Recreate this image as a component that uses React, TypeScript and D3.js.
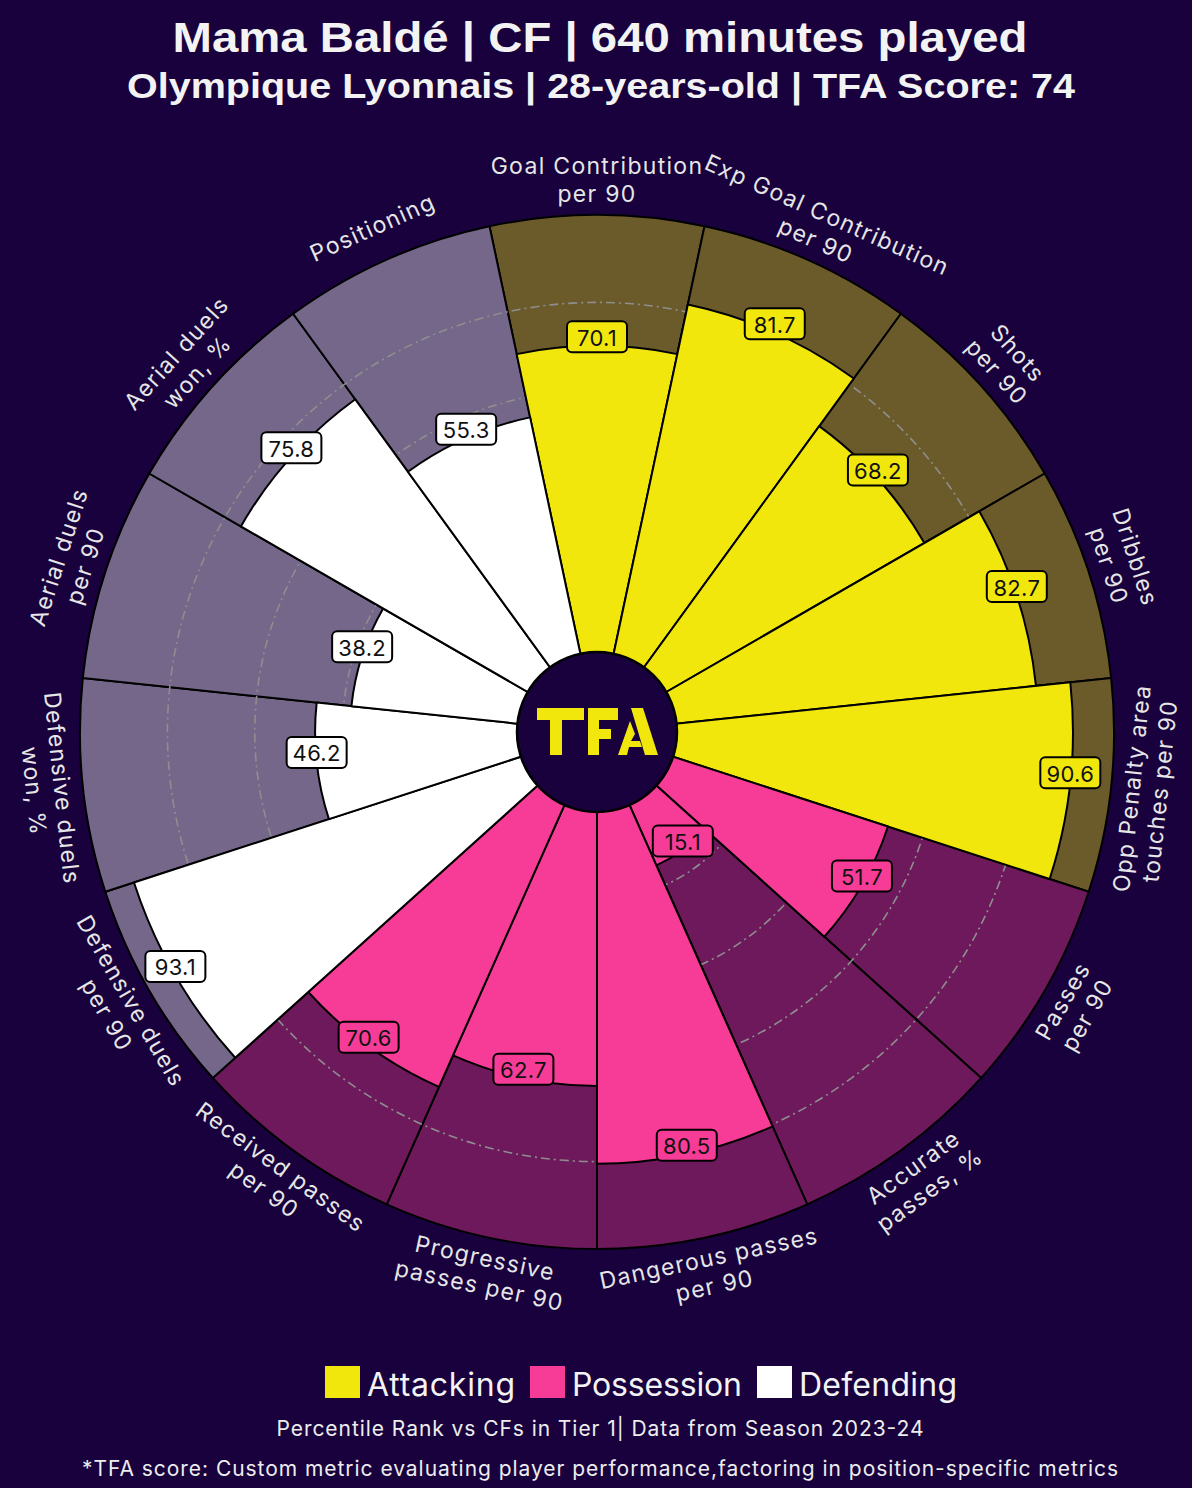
import React from "react";
import * as d3 from "d3";

const params = [
  "Goal Contribution\nper 90",
  "Exp Goal Contribution\nper 90",
  "Shots\nper 90",
  "Dribbles\nper 90",
  "Opp Penalty area\ntouches per 90",
  "Passes\nper 90",
  "Accurate\npasses, %",
  "Dangerous passes\nper 90",
  "Progressive\npasses per 90",
  "Received passes\nper 90",
  "Defensive duels\nper 90",
  "Defensive duels\nwon, %",
  "Aerial duels\nper 90",
  "Aerial duels\nwon, %",
  "Positioning",
];
const values = [70.1, 81.7, 68.2, 82.7, 90.6, 51.7, 15.1, 80.5, 62.7, 70.6, 93.1, 46.2, 38.2, 75.8, 55.3];
const groupOf = [
  "Attacking", "Attacking", "Attacking", "Attacking", "Attacking",
  "Possession", "Possession", "Possession", "Possession", "Possession",
  "Defending", "Defending", "Defending", "Defending", "Defending",
];
const legendItems = ["Attacking", "Possession", "Defending"];
const gridValues = [20, 40, 60, 80];

const title = "Mama Baldé | CF | 640 minutes played";
const subtitle = "Olympique Lyonnais | 28-years-old | TFA Score: 74";
const footer1 = "Percentile Rank vs CFs in Tier 1| Data from Season 2023-24";
const footer2 = "*TFA score: Custom metric evaluating player performance,factoring in position-specific metrics";

const BG = "#18013D";
const valueColor: Record<string, string> = {
  Attacking: "#F2E70D",
  Possession: "#F63C96",
  Defending: "#FFFFFF",
};
const bgColor: Record<string, string> = {
  Attacking: "#6B5B2B",
  Possession: "#6E195C",
  Defending: "#74678A",
};

const W = 1192;
const H = 1488;
const CX = 597;
const CY = 732;
const R0 = 80;
const R1 = 517;
const LABEL_R = 552;

export default function App() {
  const n = params.length;
  const step = 360 / n;
  const r = d3.scaleLinear().domain([0, 100]).range([R0, R1]);
  const rad = (deg: number) => (deg * Math.PI) / 180;
  const arc = d3.arc<any>();

  const slices = values.map((v, i) => {
    const a0 = rad(i * step - step / 2);
    const a1 = rad(i * step + step / 2);
    return {
      i,
      v,
      g: groupOf[i],
      bg: arc({ innerRadius: 0, outerRadius: R1, startAngle: a0, endAngle: a1 }) as string,
      val: arc({ innerRadius: 0, outerRadius: r(v), startAngle: a0, endAngle: a1 }) as string,
      mid: i * step,
    };
  });

  const font = "Inter, 'Noto Sans', sans-serif";
  const titleFont = "'Liberation Sans', Arial, sans-serif";
  const legendX = [325, 530, 757];
  const legendW = [148, 170, 158];

  return (
    <svg
      width={W}
      height={H}
      style={{ position: "absolute", left: 0, top: 0, display: "block" }}
      xmlns="http://www.w3.org/2000/svg"
    >
      <rect x={0} y={0} width={W} height={H} fill={BG} />
      <text x={600} y={52} textAnchor="middle" fill="#F3F3F3" fontFamily={titleFont} fontWeight={700} fontSize={42} textLength={855} lengthAdjust="spacingAndGlyphs">
        {title}
      </text>
      <text x={601} y={98} textAnchor="middle" fill="#F3F3F3" fontFamily={titleFont} fontWeight={700} fontSize={35} textLength={948} lengthAdjust="spacingAndGlyphs">
        {subtitle}
      </text>

      <g transform={`translate(${CX},${CY})`}>
        {slices.map((s) => (
          <path key={"bg" + s.i} d={s.bg} fill={bgColor[s.g]} stroke="#000" strokeWidth={2} strokeLinejoin="round" />
        ))}
        {gridValues.map((gv) => (
          <circle key={"grid" + gv} r={r(gv)} fill="none" stroke="#8E8E8E" strokeWidth={1.6} strokeDasharray="9,4,2,4" />
        ))}
        {slices.map((s) => (
          <path key={"val" + s.i} d={s.val} fill={valueColor[s.g]} stroke="#000" strokeWidth={2} strokeLinejoin="round" />
        ))}
        <circle r={R0} fill={BG} stroke="#000" strokeWidth={2.5} />
        {/* TFA logo */}
        <g transform={`translate(${-CX},${-CY})`} fill="#F2E70D">
          <rect x={537} y={708} width={47} height={12} />
          <rect x={550} y={708} width={12} height={47} />
          <rect x={588} y={708} width={11} height={47} />
          <rect x={588} y={708} width={30} height={12} />
          <rect x={588} y={729} width={23} height={10} />
          <polygon points="631,708 643,708 658,755 645,755" />
          <polygon points="618,755 630,721 635,734 631,741 640,741 642,747 629,747 627,755" />
        </g>

        {slices.map((s) => {
          const a = rad(s.mid);
          const rv = r(s.v);
          const x = rv * Math.sin(a);
          const y = -rv * Math.cos(a) - 9;
          return (
            <g key={"lab" + s.i} transform={`translate(${x},${y})`}>
              <rect x={-30} y={-15.5} width={60} height={31} rx={5} fill={valueColor[s.g]} stroke="#000" strokeWidth={2} />
              <text x={0} y={1} textAnchor="middle" dominantBaseline="central" fontFamily={font} fontSize={22} fill="#111" letterSpacing={0.3}>
                {s.v.toFixed(1)}
              </text>
            </g>
          );
        })}

        {slices.map((s) => {
          const a = rad(s.mid);
          const x = LABEL_R * Math.sin(a);
          const y = -LABEL_R * Math.cos(a);
          const rot = s.mid > 90 && s.mid < 270 ? s.mid - 180 : s.mid >= 270 ? s.mid - 360 : s.mid;
          const lines = params[s.i].split("\n");
          const lh = 28;
          return (
            <text
              key={"p" + s.i}
              transform={`translate(${x},${y}) rotate(${rot})`}
              textAnchor="middle"
              dominantBaseline="central"
              fontFamily={font}
              fontSize={23}
              letterSpacing={1.3}
              fill="#E6E6E6"
            >
              {lines.map((ln, k) => (
                <tspan key={k} x={0} y={(k - (lines.length - 1) / 2) * lh}>
                  {ln}
                </tspan>
              ))}
            </text>
          );
        })}
      </g>

      {legendItems.map((g, k) => (
        <g key={g}>
          <rect x={legendX[k]} y={1366} width={35} height={32} fill={valueColor[g]} />
          <text x={legendX[k] + 42} y={1396} fill="#F3F3F3" fontFamily={font} fontSize={32} textLength={legendW[k]} lengthAdjust="spacing">
            {g}
          </text>
        </g>
      ))}
      <text x={600} y={1436} textAnchor="middle" fill="#EDEDED" fontFamily={font} fontSize={21} textLength={647} lengthAdjust="spacing">
        {footer1}
      </text>
      <text x={600} y={1476} textAnchor="middle" fill="#EDEDED" fontFamily={font} fontSize={21} textLength={1036} lengthAdjust="spacing">
        {footer2}
      </text>
    </svg>
  );
}
